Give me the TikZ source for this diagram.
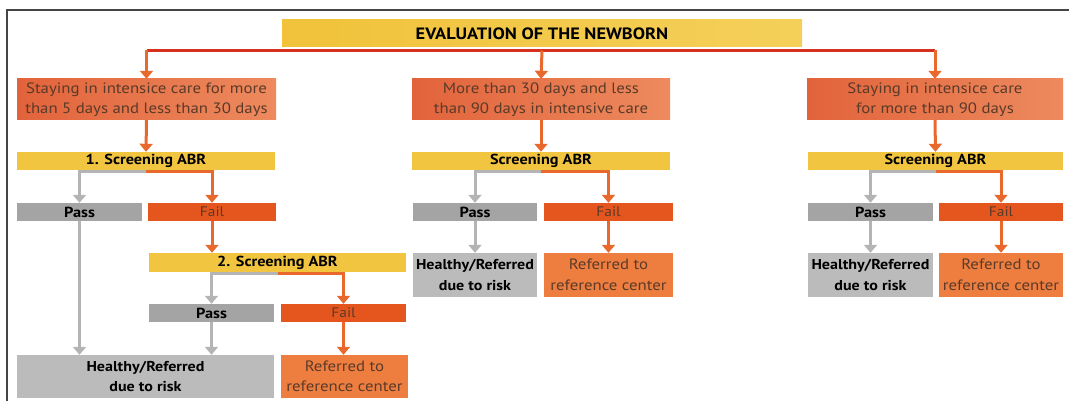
\documentclass[tikz,border=0pt]{standalone}
\usepackage{fontspec}
\setmainfont{PT Sans}[FakeStretch=1.12]
\usetikzlibrary{arrows.meta}
\definecolor{ttlY}{HTML}{F1C23A}
\definecolor{ttlL}{HTML}{F4D05A}
\definecolor{ageL}{HTML}{E2633B}
\definecolor{ageR}{HTML}{ED8A5E}
\definecolor{scrY}{HTML}{F2C540}
\definecolor{passG}{HTML}{A4A4A4}
\definecolor{failO}{HTML}{E5561F}
\definecolor{hlthG}{HTML}{BBBBBB}
\definecolor{refO}{HTML}{EE7E40}
\definecolor{brownT}{HTML}{5A3A28}
\definecolor{lineG}{HTML}{B4B4B4}
\definecolor{lineO}{HTML}{E9692D}
\definecolor{lineR}{HTML}{D6301E}
\definecolor{frameC}{HTML}{454545}
\begin{document}
\begin{tikzpicture}[x=1pt,y=-1pt,
  bx/.style n args={2}{rectangle, inner sep=0pt, align=center, minimum width=#1pt, minimum height=#2pt},
  titlebox/.style={left color=ttlY, right color=ttlL, text=black, font=\bfseries\fontsize{16.4}{18}\selectfont},
  agebox/.style={left color=ageL, right color=ageR, text=brownT, font=\fontsize{15}{20.5}\selectfont},
  scrbox/.style={fill=scrY, text=black, font=\bfseries\fontsize{14.5}{16}\selectfont},
  passbox/.style={fill=passG, text=black, font=\bfseries\fontsize{14.6}{16}\selectfont},
  failbox/.style={fill=failO, text=brownT, font=\fontsize{13.8}{16}\selectfont},
  hlthbox/.style={fill=hlthG, text=black, font=\bfseries\fontsize{14.3}{20.5}\selectfont},
  refbox/.style={fill=refO, text=brownT, font=\fontsize{15}{20.5}\selectfont},
  tip/.style={-{Triangle[width=13pt,length=8pt]}},
  garr/.style={tip, draw=lineG, line width=3pt},
  oarr/.style={tip, draw=lineO, line width=3pt},
  rline/.style={draw=lineR, line width=3pt}
]
\useasboundingbox (0,0) rectangle (1069,401);
% frame
\coordinate (frTL) at (7,10);
\coordinate (frTR) at (1069,10);
\coordinate (frBL) at (7,401);
\draw[frameC, line width=1.4pt] (frTR) -- (frTL) -- (frBL);

% title
\node[bx={520}{27}, titlebox] (title) at (542,33.5) {EVALUATION OF THE NEWBORN};
\coordinate (bus) at (542,50.5);

% age boxes
\node[bx={259}{41}, agebox] (c1) at (146.5,99.5) {Staying in intensice care for more\\than 5 days and less than 30 days};
\node[bx={258}{41}, agebox] (c2) at (541,99.5) {More than 30 days and less\\than 90 days in intensive care};
\node[bx={256}{41}, agebox] (c3) at (935,99.5) {Staying in intensice care\\for more than 90 days};

% screening bars
\node[bx={258}{18}, scrbox] (s1) at (146,161) {1. Screening ABR};
\node[bx={258}{18}, scrbox] (s2) at (541,161) {Screening ABR};
\node[bx={255}{18}, scrbox] (s3) at (935.5,161) {Screening ABR};

% pass / fail row 1
\node[bx={125}{18}, passbox] (p1) at (79.5,212) {Pass};
\node[bx={128}{18}, failbox] (f1) at (212,212) {Fail};
\node[bx={124}{18}, passbox] (p2) at (475,212) {Pass};
\node[bx={129}{18}, failbox] (f2) at (608.5,212) {Fail};
\node[bx={125}{18}, passbox] (p3) at (870.5,212) {Pass};
\node[bx={124}{18}, failbox] (f3) at (1001,212) {Fail};

% second screening (left column)
\node[bx={257}{19}, scrbox] (s12) at (277.5,262.5) {2. Screening ABR};
\node[bx={125}{18}, passbox] (p12) at (211.5,313) {Pass};
\node[bx={125}{18}, failbox] (f12) at (343.5,313) {Fail};

% outcomes
\node[bx={257}{43}, hlthbox] (h1) at (145.5,376.5) {Healthy/Referred\\due to risk};
\node[bx={127}{43}, refbox] (r1) at (344.5,376.5) {Referred to\\reference center};
\node[bx={124}{44}, hlthbox] (h2) at (475,275) {Healthy/Referred\\due to risk};
\node[bx={129}{44}, refbox] (r2) at (608.5,275) {Referred to\\reference center};
\node[bx={125}{44}, hlthbox] (h3) at (870.5,275) {Healthy/Referred\\due to risk};
\node[bx={124}{44}, refbox] (r3) at (1001,275) {Referred to\\reference center};

% title bus
\draw[rline] (c1.north |- bus) -- (c3.north |- bus);
\draw[oarr] (c1.north |- bus) -- (c1.north);
\draw[oarr] (bus) -- (c2.north);
\draw[oarr] (c3.north |- bus) -- (c3.north);

% age -> screening
\draw[oarr] (c1.south) -- (s1.north);
\draw[oarr] (c2.south) -- (s2.north);
\draw[oarr] (c3.south) -- (s3.north);

% screening splits
\draw[garr] (s1.south) ++(0,1.5) -| (p1.north);
\draw[oarr] (s1.south) ++(0,1.5) -| (f1.north);
\draw[garr] (s2.south) ++(0,1.5) -| (p2.north);
\draw[oarr] (s2.south) ++(0,1.5) -| (f2.north);
\draw[garr] (s3.south) ++(0,1.5) -| (p3.north);
\draw[oarr] (s3.south) ++(0,1.5) -| (f3.north);
\draw[garr] (s12.south) ++(0,1.5) -| (p12.north);
\draw[oarr] (s12.south) ++(0,1.5) -| (f12.north);

% fail1 -> second screening
\draw[oarr] (f1.south) -- (f1.south |- s12.north);

% to outcomes
\draw[garr] (p1.south) -- (p1.south |- h1.north);
\draw[garr] (p12.south) -- (p12.south |- h1.north);
\draw[oarr] (f12.south) -- (f12.south |- r1.north);
\draw[garr] (p2.south) -- (h2.north);
\draw[oarr] (f2.south) -- (r2.north);
\draw[garr] (p3.south) -- (h3.north);
\draw[oarr] (f3.south) -- (r3.north);
\end{tikzpicture}
\end{document}
